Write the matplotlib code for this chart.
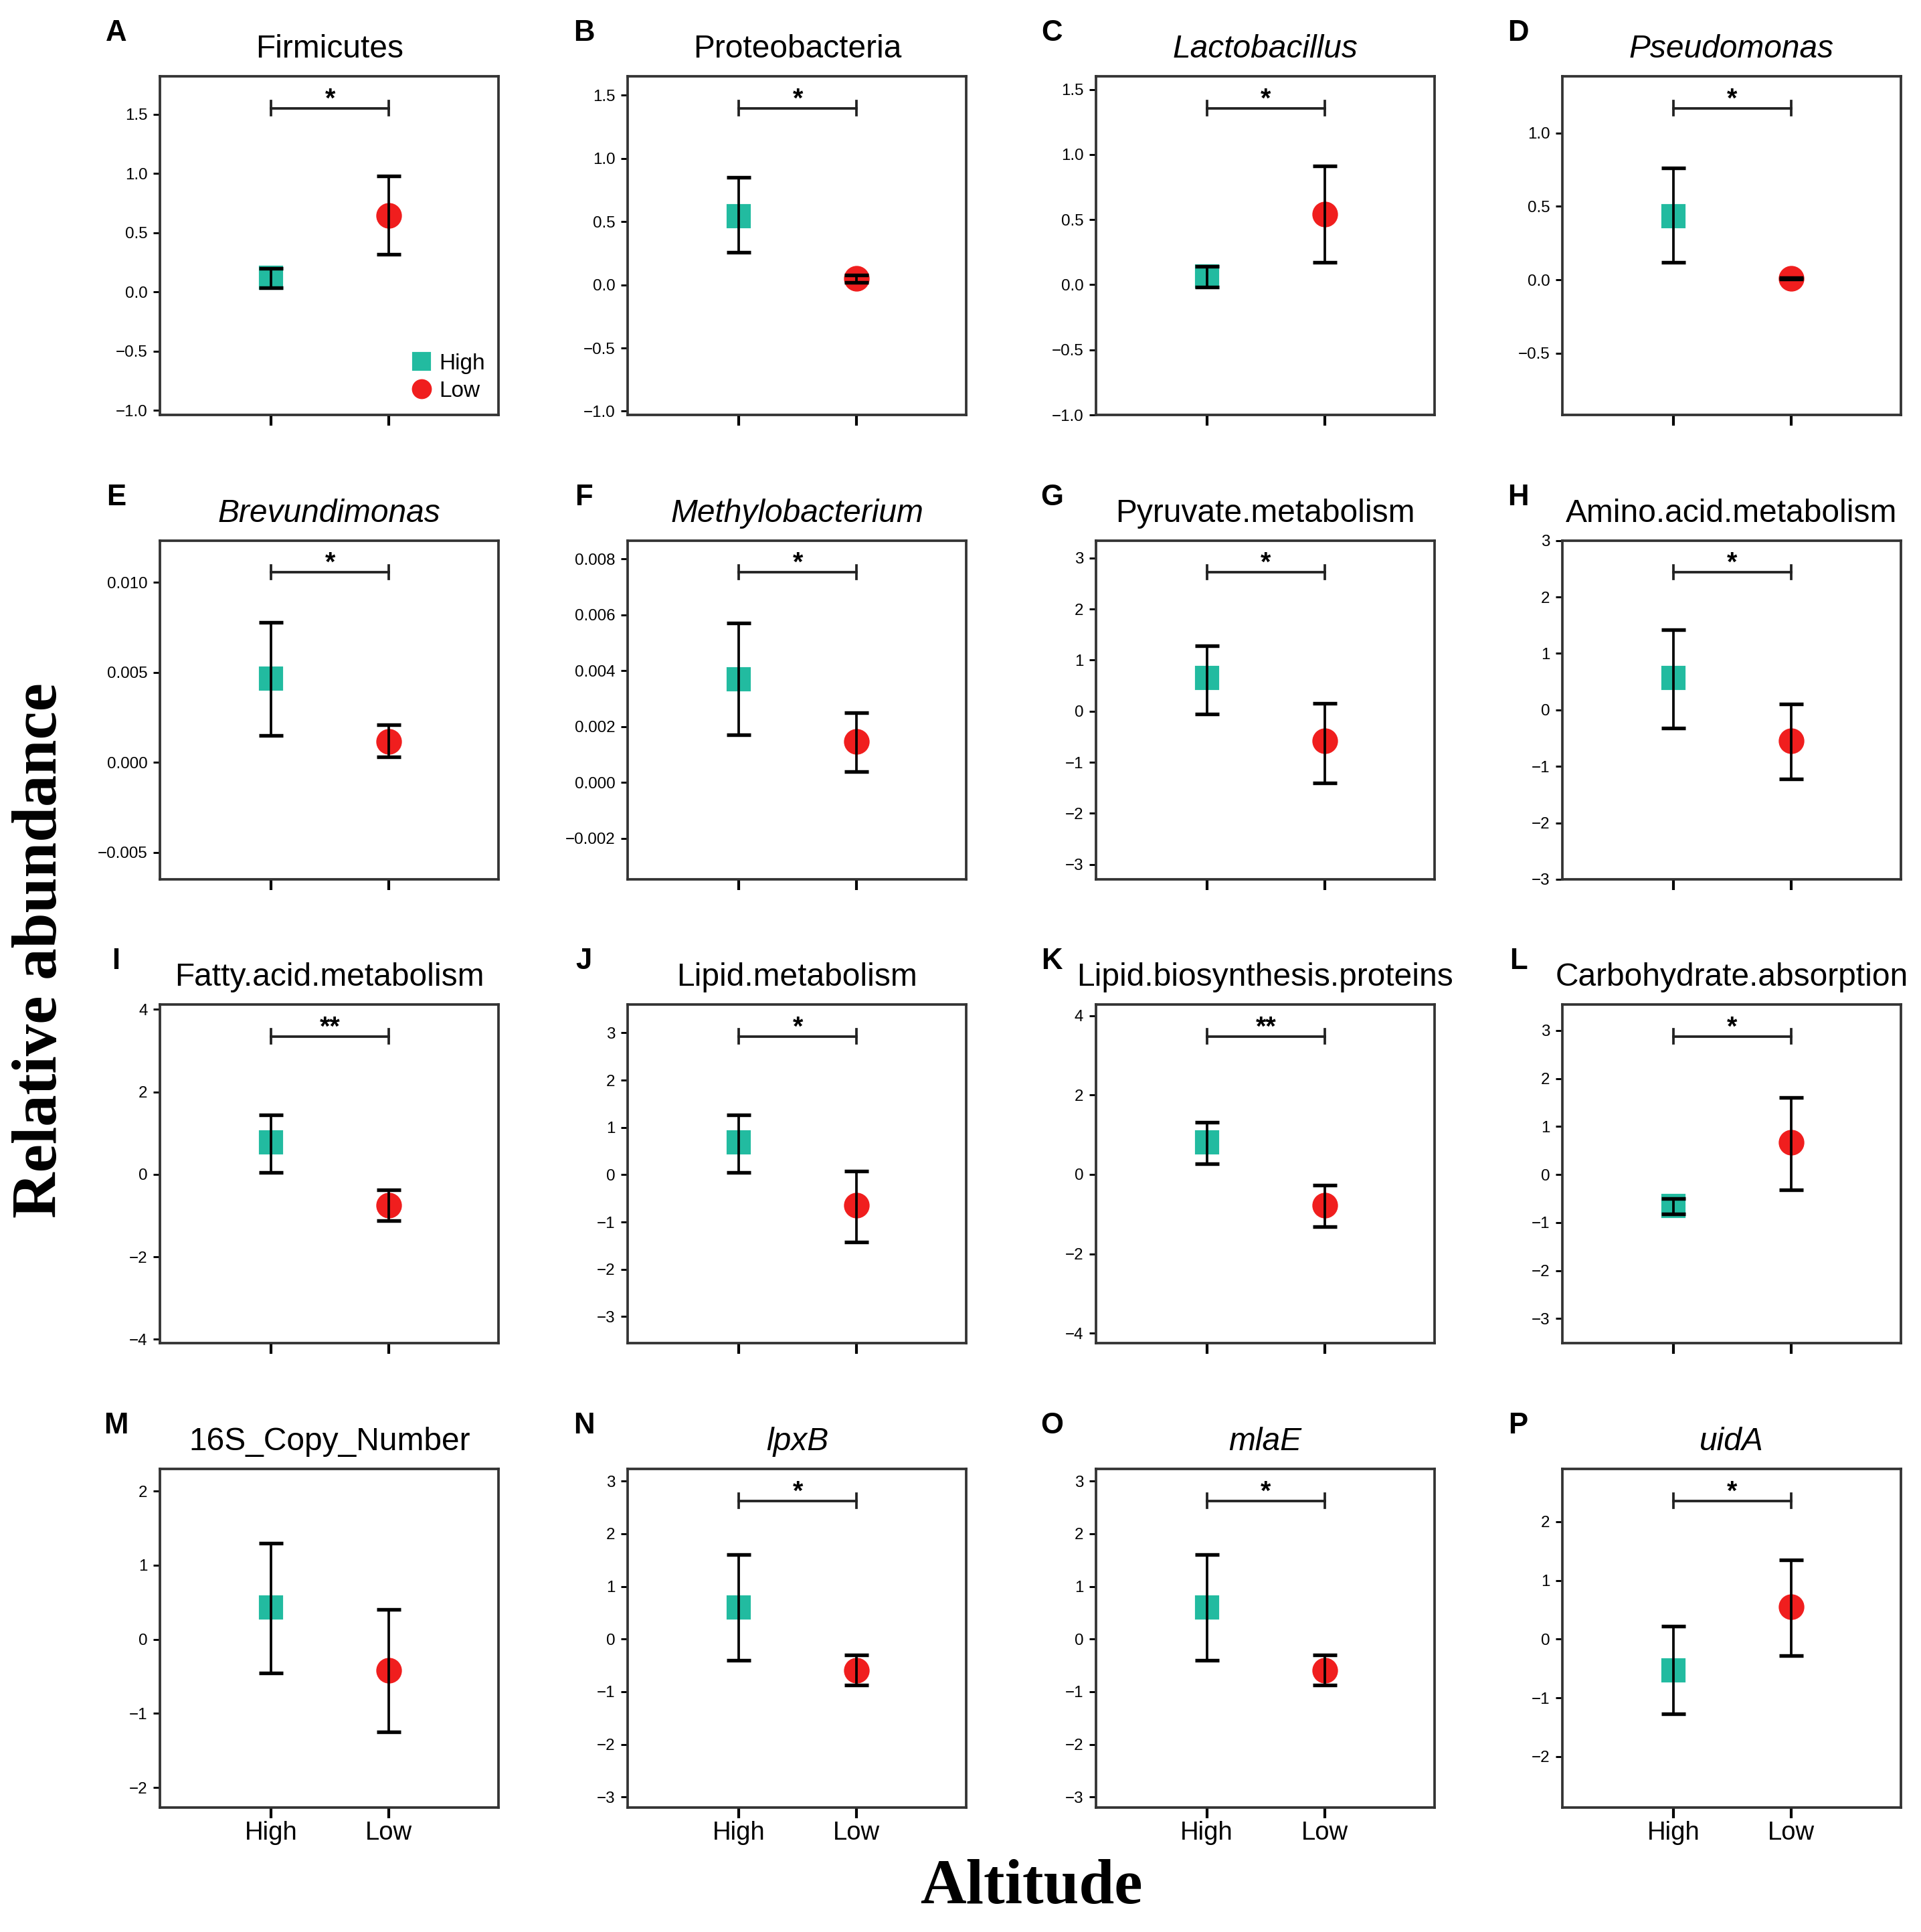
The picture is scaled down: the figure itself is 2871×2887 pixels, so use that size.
import matplotlib
matplotlib.use("Agg")
import matplotlib.pyplot as plt
import numpy as np

# panel data
letters = list("ABCDEFGHIJKLMNOP")
titles = ["Firmicutes", "Proteobacteria", "Lactobacillus", "Pseudomonas",
          "Brevundimonas", "Methylobacterium", "Pyruvate.metabolism", "Amino.acid.metabolism",
          "Fatty.acid.metabolism", "Lipid.metabolism", "Lipid.biosynthesis.proteins",
          "Carbohydrate.absorption", "16S_Copy_Number", "lpxB", "mlaE", "uidA"]
italic = [False, False, True, True, True, True, False, False,
          False, False, False, False, False, True, True, True]
groups = ["High", "Low"]

high_mean = [0.12, 0.545, 0.065, 0.435, 0.00466, 0.0037, 0.65, 0.57,
             0.78, 0.68, 0.80, -0.65, 0.43, 0.60, 0.60, -0.53]
high_lo = [0.035, 0.26, -0.02, 0.12, 0.0015, 0.0017, -0.05, -0.32,
           0.05, 0.05, 0.27, -0.82, -0.45, -0.40, -0.40, -1.27]
high_hi = [0.197, 0.85, 0.14, 0.76, 0.0078, 0.0057, 1.28, 1.42,
           1.45, 1.27, 1.32, -0.50, 1.30, 1.60, 1.60, 0.22]
low_mean = [0.644, 0.05, 0.54, 0.01, 0.00116, 0.00146, -0.58, -0.55,
            -0.75, -0.65, -0.78, 0.67, -0.42, -0.60, -0.60, 0.55]
low_lo = [0.316, 0.02, 0.17, 0.005, 0.0003, 0.0004, -1.40, -1.22,
          -1.12, -1.42, -1.32, -0.32, -1.25, -0.88, -0.88, -0.28]
low_hi = [0.977, 0.08, 0.91, 0.015, 0.0021, 0.0025, 0.15, 0.10,
          -0.38, 0.08, -0.28, 1.60, 0.40, -0.30, -0.30, 1.35]
signif = ["*", "*", "*", "*", "*", "*", "*", "*",
          "**", "*", "**", "*", "", "*", "*", "*"]

ylims = [(-1.04, 1.82), (-1.03, 1.65), (-1.0, 1.6), (-0.92, 1.385),
         (-0.0065, 0.01233), (-0.00346, 0.00866), (-3.29, 3.34), (-3.0, 3.0),
         (-4.09, 4.12), (-3.56, 3.6), (-4.25, 4.28), (-3.51, 3.54),
         (-2.27, 2.3), (-3.2, 3.23), (-3.2, 3.23), (-2.87, 2.9)]
yticks = [[-1, -0.5, 0, 0.5, 1, 1.5], [-1, -0.5, 0, 0.5, 1, 1.5],
          [-1, -0.5, 0, 0.5, 1, 1.5], [-0.5, 0, 0.5, 1.0],
          [-0.005, 0, 0.005, 0.010], [-0.002, 0, 0.002, 0.004, 0.006, 0.008],
          [-3, -2, -1, 0, 1, 2, 3], [-3, -2, -1, 0, 1, 2, 3],
          [-4, -2, 0, 2, 4], [-3, -2, -1, 0, 1, 2, 3],
          [-4, -2, 0, 2, 4], [-3, -2, -1, 0, 1, 2, 3],
          [-2, -1, 0, 1, 2], [-3, -2, -1, 0, 1, 2, 3],
          [-3, -2, -1, 0, 1, 2, 3], [-2, -1, 0, 1, 2]]
ydecimals = [1, 1, 1, 1, 3, 3, 0, 0, 0, 0, 0, 0, 0, 0, 0, 0]

teal = "#22BBA0"
red = "#F01E1E"

plt.rcParams["font.family"] = ["Liberation Sans", "DejaVu Sans"]

fig = plt.figure(figsize=(2871 / 300, 2887 / 300), dpi=300)

col_left = [0.0833, 0.3268, 0.5705, 0.8133]
row_bottom = [0.7852, 0.5449, 0.3048, 0.0644]
w, h = 0.1763, 0.1753

x = np.array([1, 2])
for i in range(16):
    r, c = divmod(i, 4)
    ax = fig.add_axes([col_left[c], row_bottom[r], w, h])

    ax.plot(x[0], high_mean[i], "s", color=teal, markersize=7.5, zorder=2, label="High")
    ax.plot(x[1], low_mean[i], "o", color=red, markersize=8.2, zorder=2, label="Low")
    means = [high_mean[i], low_mean[i]]
    lower = [high_mean[i] - high_lo[i], low_mean[i] - low_lo[i]]
    upper = [high_hi[i] - high_mean[i], low_hi[i] - low_mean[i]]
    ax.errorbar(x, means, yerr=[lower, upper], fmt="none", ecolor="black",
                elinewidth=0.9, capsize=4.4, capthick=1.3, zorder=3)

    if signif[i]:
        tr = ax.get_xaxis_transform()
        ax.plot([1, 2], [0.906, 0.906], color="#222222", lw=0.9, transform=tr)
        ax.plot([1, 1], [0.886, 0.926], color="#222222", lw=0.9, transform=tr)
        ax.plot([2, 2], [0.886, 0.926], color="#222222", lw=0.9, transform=tr)
        ax.text(1.5, 0.932, signif[i], transform=tr, ha="center", va="center",
                fontsize=9.5, fontweight="bold")

    ax.set_xlim(0.06, 2.93)
    ax.set_ylim(*ylims[i])
    ax.set_yticks(yticks[i])
    d = ydecimals[i]
    ax.set_yticklabels([f"{v:.{d}f}".replace("-", "\u2212") if v != 0 else f"{0:.{d}f}"
                        for v in yticks[i]])
    ax.set_xticks(x)
    if r == 3:
        ax.set_xticklabels(groups, fontsize=9.2)
    else:
        ax.set_xticklabels([])
    ax.tick_params(axis="y", labelsize=5.8, length=2.5, width=0.7, pad=2)
    ax.tick_params(axis="x", length=3.8, width=1.0, pad=1)
    for sp in ax.spines.values():
        sp.set_color("#333333")
        sp.set_linewidth(0.9)

    ax.text(0.5, 1.08, titles[i], transform=ax.transAxes, ha="center", va="center",
            fontsize=11.5, style="italic" if italic[i] else "normal")
    ax.text(-0.13, 1.128, letters[i], transform=ax.transAxes, ha="center", va="center",
            fontsize=10.5, fontweight="bold")

    if i == 0:
        ax.legend(loc="lower right", frameon=False, fontsize=8, handlelength=0.6,
                  handletextpad=0.5, borderaxespad=0.2, labelspacing=0.3,
                  markerscale=0.75)

fig.text(0.0212, 0.508, "Relative abundance", rotation=90, ha="center", va="center",
         fontsize=22.8, fontweight="bold", family=["Liberation Serif", "DejaVu Serif"])
fig.text(0.537, 0.0229, "Altitude", ha="center", va="center",
         fontsize=22.8, fontweight="bold", family=["Liberation Serif", "DejaVu Serif"])

fig.savefig("out.png", dpi=300)
